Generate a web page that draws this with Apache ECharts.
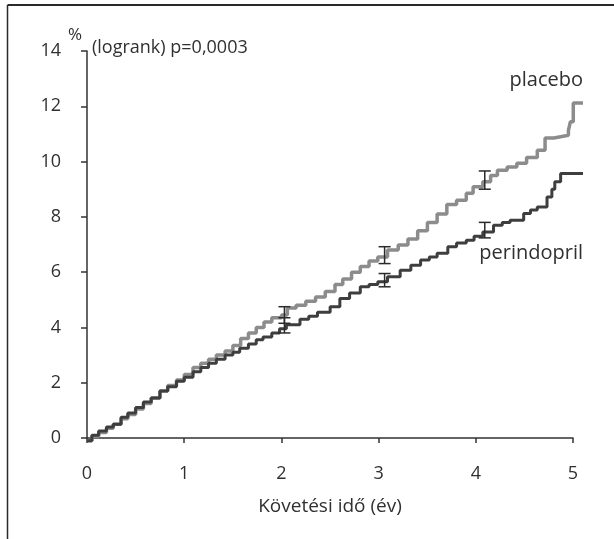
<!DOCTYPE html>
<html>
<head>
<meta charset="utf-8">
<script src="https://cdn.jsdelivr.net/npm/echarts@6/dist/echarts.min.js"></script>
<style>
  html, body { margin: 0; padding: 0; background: #fff; }
  #chart { width: 614px; height: 539px; }
</style>
</head>
<body>
<div id="chart"></div>
<script>
// chart data
var yTicks = [0, 2, 4, 6, 8, 10, 12, 14];
var xTicks = [0, 1, 2, 3, 4, 5];

var placeboT = [0, 0.05, 0.12, 0.2, 0.27, 0.35, 0.42, 0.5, 0.58, 0.66, 0.75, 0.83, 0.92, 1.0,
    1.09, 1.17, 1.25, 1.33, 1.42, 1.5, 1.58, 1.66, 1.74, 1.82, 1.9, 2.0, 2.06, 2.15, 2.25,
    2.35, 2.45, 2.55, 2.63, 2.72, 2.81, 2.9, 2.99, 3.09, 3.2, 3.3, 3.4, 3.5, 3.6, 3.7, 3.8,
    3.9, 3.97, 4.07, 4.15, 4.22, 4.32, 4.42, 4.52, 4.63, 4.71, 4.8, 4.87, 4.95, 4.97, 5.0, 5.1];
var placeboV = [-0.1, 0.05, 0.2, 0.35, 0.5, 0.7, 0.85, 1.05, 1.25, 1.45, 1.7, 1.9, 2.1, 2.3,
    2.55, 2.7, 2.85, 3.0, 3.15, 3.35, 3.6, 3.8, 4.0, 4.2, 4.35, 4.45, 4.7, 4.8, 4.95,
    5.1, 5.3, 5.55, 5.75, 6.0, 6.2, 6.4, 6.55, 6.8, 6.98, 7.2, 7.5, 7.8, 8.1, 8.45, 8.6,
    8.85, 9.09, 9.27, 9.5, 9.69, 9.8, 9.94, 10.15, 10.41, 10.85, 10.9, 10.95, 11.13, 11.44, 12.12, 12.12];

var periT = [0, 0.05, 0.12, 0.2, 0.27, 0.35, 0.42, 0.5, 0.58, 0.66, 0.75, 0.83, 0.92, 1.0,
    1.09, 1.17, 1.25, 1.33, 1.42, 1.5, 1.57, 1.66, 1.74, 1.81, 1.9, 1.98, 2.05, 2.19, 2.28,
    2.37, 2.5, 2.6, 2.7, 2.81, 2.9, 2.99, 3.09, 3.22, 3.33, 3.43, 3.52, 3.6, 3.71, 3.8, 3.9,
    3.98, 4.07, 4.18, 4.27, 4.35, 4.49, 4.56, 4.63, 4.73, 4.78, 4.81, 4.87, 5.1];
var periV = [-0.1, 0.1, 0.25, 0.4, 0.5, 0.75, 0.9, 1.1, 1.3, 1.45, 1.7, 1.85, 2.05, 2.2,
    2.4, 2.55, 2.7, 2.85, 3.0, 3.1, 3.25, 3.4, 3.55, 3.65, 3.8, 3.95, 4.1, 4.3, 4.4,
    4.55, 4.75, 5.05, 5.25, 5.47, 5.55, 5.65, 5.83, 6.07, 6.25, 6.44, 6.55, 6.68, 6.92, 7.05, 7.15,
    7.3, 7.45, 7.7, 7.8, 7.88, 8.12, 8.25, 8.36, 8.72, 9.0, 9.27, 9.57, 9.57];

// error bars: [time, low, high]
var placeboErr = [[2.03, 4.15, 4.75], [3.06, 6.31, 6.92], [4.09, 9.0, 9.66]];
var periErr = [[2.03, 3.8, 4.35], [3.06, 5.47, 5.95], [4.09, 7.24, 7.8]];

function pairs(t, v) {
    var out = [];
    for (var i = 0; i < t.length; i++) {
        out.push([t[i], v[i]]);
    }
    return out;
}

function renderErr(params, api) {
    var lo = api.coord([api.value(0), api.value(1)]);
    var hi = api.coord([api.value(0), api.value(2)]);
    var hw = 6;
    var style = { stroke: '#2a2a2a', lineWidth: 1.5 };
    return {
        type: 'group',
        children: [
            { type: 'line', shape: { x1: lo[0], y1: lo[1], x2: hi[0], y2: hi[1] }, style: style },
            { type: 'line', shape: { x1: lo[0] - hw, y1: lo[1], x2: lo[0] + hw, y2: lo[1] }, style: style },
            { type: 'line', shape: { x1: hi[0] - hw, y1: hi[1], x2: hi[0] + hw, y2: hi[1] }, style: style }
        ]
    };
}

var font = '"Open Sans", Lato, sans-serif';
var textColor = '#303030';
var chart = echarts.init(document.getElementById('chart'), null, { renderer: 'canvas' });
var option = {
    animation: false,
    backgroundColor: '#fff',
    // grid 0 carries the visible axes (0..5), grid 1 the curves, which run a bit past 5
    grid: [
        { left: 87, right: 41, top: 51, bottom: 101 },
        { left: 87, right: 31, top: 51, bottom: 101 }
    ],
    xAxis: [{
        gridIndex: 0,
        type: 'value',
        min: 0,
        max: 5,
        interval: 1,
        offset: 15,
        name: 'Követési idő (év)',
        nameLocation: 'middle',
        nameGap: 44,
        nameTextStyle: { color: textColor, fontSize: 19, fontFamily: font },
        axisLine: { lineStyle: { color: '#333', width: 1.5 } },
        axisTick: { inside: false, length: 5, lineStyle: { color: '#333', width: 1.5 } },
        axisLabel: {
            color: textColor, fontSize: 18, fontFamily: font, margin: 12,
            formatter: function (v) { return xTicks.indexOf(v) >= 0 ? String(v) : ''; }
        },
        splitLine: { show: false }
    }, {
        gridIndex: 1,
        type: 'value',
        min: 0,
        max: 5.1,
        show: false
    }],
    yAxis: [{
        gridIndex: 0,
        type: 'value',
        min: 0,
        max: 14,
        interval: 2,
        offset: 10,
        axisLine: { show: true, lineStyle: { color: '#333', width: 1.5 } },
        axisTick: { show: true, length: 6, lineStyle: { color: '#333', width: 1.5 } },
        axisLabel: {
            color: textColor, fontSize: 18, fontFamily: font, margin: 16,
            formatter: function (v) { return yTicks.indexOf(v) >= 0 ? String(v) : ''; }
        },
        splitLine: { show: false }
    }, {
        gridIndex: 1,
        type: 'value',
        min: 0,
        max: 14,
        show: false
    }],
    series: [
        {
            name: 'placebo',
            type: 'line',
            xAxisIndex: 1,
            yAxisIndex: 1,
            step: 'end',
            clip: false,
            symbol: 'none',
            lineStyle: { color: '#8c8c8c', width: 3.5 },
            data: pairs(placeboT, placeboV),
            z: 2
        },
        {
            name: 'perindopril',
            type: 'line',
            xAxisIndex: 1,
            yAxisIndex: 1,
            step: 'end',
            clip: false,
            symbol: 'none',
            lineStyle: { color: '#3e3e3e', width: 3 },
            data: pairs(periT, periV),
            z: 3
        },
        {
            type: 'custom',
            xAxisIndex: 1,
            yAxisIndex: 1,
            renderItem: renderErr,
            clip: false,
            data: placeboErr,
            z: 4
        },
        {
            type: 'custom',
            xAxisIndex: 1,
            yAxisIndex: 1,
            renderItem: renderErr,
            clip: false,
            data: periErr,
            z: 4
        }
    ],
    graphic: [
        // frame lines
        { type: 'line', shape: { x1: 7.5, y1: 5, x2: 614, y2: 5 }, style: { stroke: '#2a2a2a', lineWidth: 2 } },
        { type: 'line', shape: { x1: 7.5, y1: 5, x2: 7.5, y2: 539 }, style: { stroke: '#2a2a2a', lineWidth: 1.5 } },
        { type: 'text', left: 68, top: 27, style: { text: '%', fill: textColor, font: '17px ' + font } },
        { type: 'text', left: 92, top: 39, style: { text: '(logrank) p=0,0003', fill: textColor, font: '18px ' + font } },
        { type: 'text', right: 31, top: 70, style: { text: 'placebo', fill: textColor, font: '20px ' + font } },
        { type: 'text', right: 31, top: 243, style: { text: 'perindopril', fill: textColor, font: '20px ' + font } }
    ]
};
chart.setOption(option);
</script>
</body>
</html>
